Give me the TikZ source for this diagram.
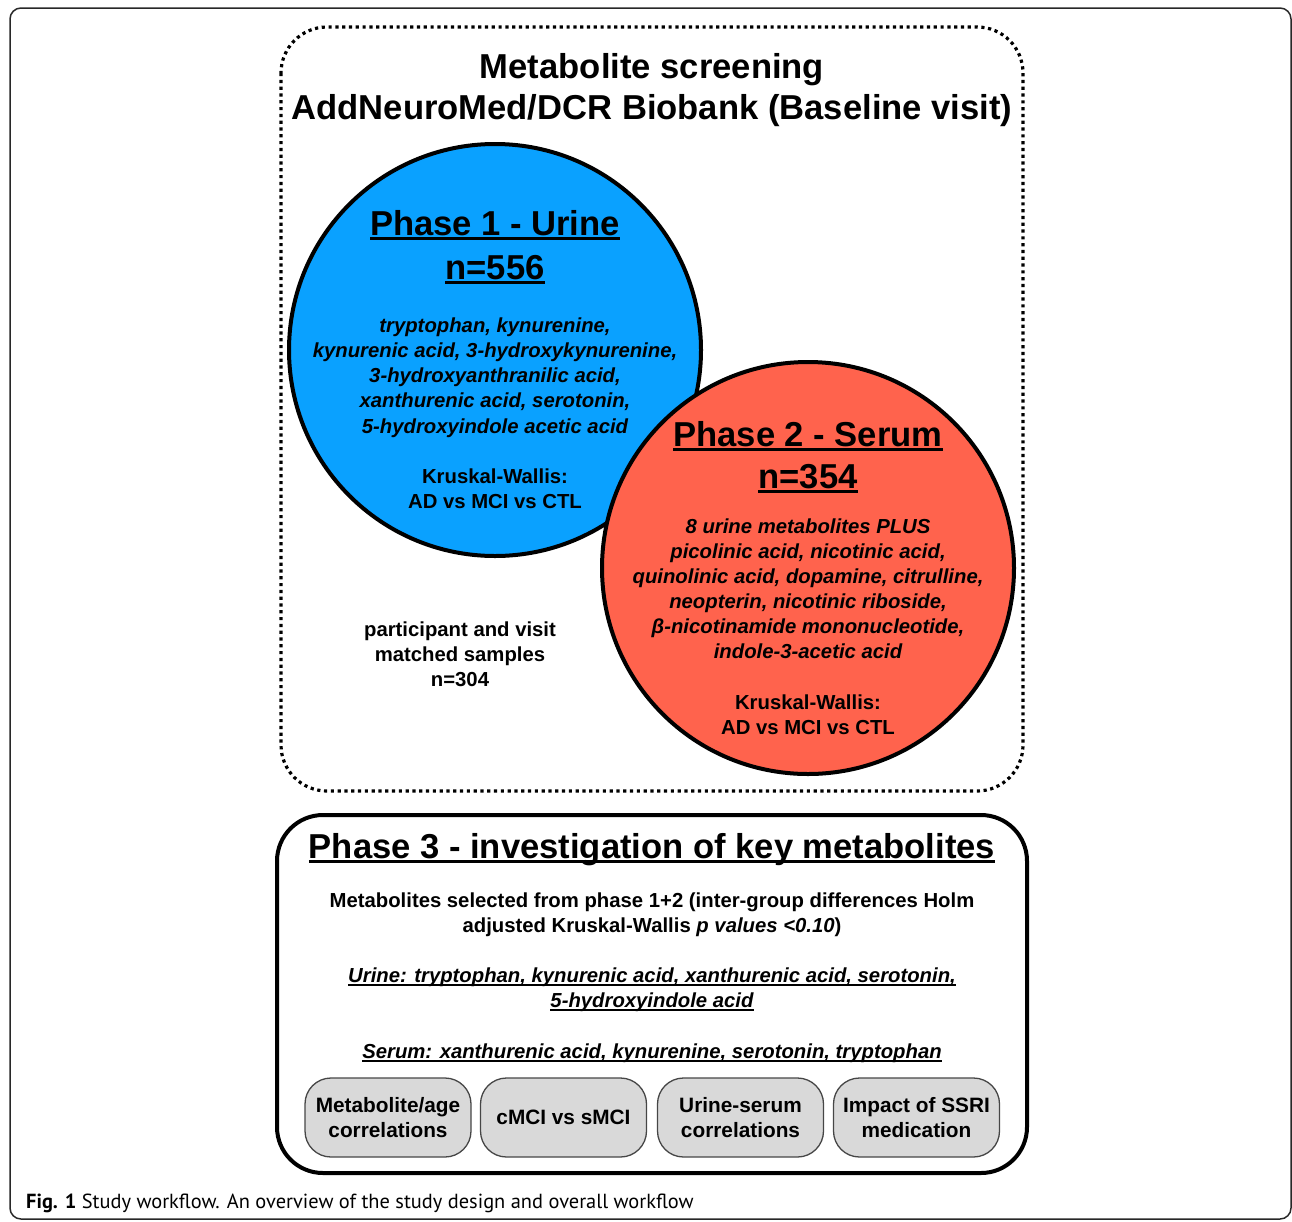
\documentclass[tikz,border=0pt]{standalone}
\usepackage{fontspec}
\setmainfont{Liberation Sans}
\newfontfamily\capfont{PT Sans}
\newlength\ulthk \setlength\ulthk{2.2pt}
\newlength\uldp \setlength\uldp{4.5pt}
\newsavebox\ulbox
\newcommand\uln[1]{\sbox\ulbox{#1}\rlap{\rule[-\uldp]{\wd\ulbox}{\ulthk}}\usebox\ulbox}
\definecolor{urineblue}{RGB}{10,161,255}
\definecolor{serumred}{RGB}{255,99,77}
\definecolor{boxgray}{RGB}{217,217,217}
\definecolor{boxedge}{RGB}{70,70,70}
\definecolor{frameedge}{RGB}{40,40,40}
\begin{document}
\begin{tikzpicture}[x=1pt,y=-1pt,
  head/.style={anchor=base,inner sep=0pt,font=\fontsize{34.6}{40}\selectfont\bfseries},
  body/.style={anchor=base,inner sep=0pt,font=\fontsize{20.3}{25}\selectfont\bfseries},
  ibody/.style={anchor=base,inner sep=0pt,font=\fontsize{20.3}{25}\selectfont\bfseries\itshape},
  phasecircle/.style={draw=black,line width=4pt},
  taskbox/.style={draw=boxedge,line width=1.3pt,fill=boxgray,rounded corners=26pt,
    minimum width=166pt,minimum height=79pt,inner sep=0pt,align=center,
    font=\fontsize{20.8}{25}\selectfont\bfseries}]
\useasboundingbox (0,0) rectangle (1292,1221);
% outer frame
\draw[frameedge,line width=1.5pt,rounded corners=11pt] (10,8) rectangle (1291,1219);
% dotted screening frame
\draw[line width=3.2pt,dash pattern=on 3.2pt off 3.6pt,rounded corners=46pt] (281,27) rectangle (1023,791);
\node[head] (t1) at (652,78) {Metabolite screening};
\node[head] (t2) at (652,119) {AddNeuroMed/DCR Biobank (Baseline visit)};
% circles
\node[phasecircle,fill=urineblue,circle,minimum size=412pt] (urine) at (495,350) {};
\node[phasecircle,fill=serumred,circle,minimum size=412pt] (serum) at (808,568) {};
% urine text
\node[head] (u1) at (495,235) {\uln{Phase 1 - Urine}};
\node[head] (u2) at (495,279) {\uln{n=556}};
\node[ibody] (u3) at (495,332) {tryptophan, kynurenine,};
\node[ibody] (u4) at (495,357) {kynurenic acid, 3-hydroxykynurenine,};
\node[ibody] (u5) at (495,382) {3-hydroxyanthranilic acid,};
\node[ibody] (u6) at (495,407) {xanthurenic acid, serotonin,};
\node[ibody] (u7) at (495,433) {5-hydroxyindole acetic acid};
\node[body] (u8) at (495,483) {Kruskal-Wallis:};
\node[body] (u9) at (495,508) {AD vs MCI vs CTL};
% serum text
\node[head] (s1) at (808,446) {\uln{Phase 2 - Serum}};
\node[head] (s2) at (808,488) {\uln{n=354}};
\node[ibody] (s3) at (808,533) {8 urine metabolites PLUS};
\node[ibody] (s4) at (808,558) {picolinic acid, nicotinic acid,};
\node[ibody] (s5) at (808,583) {quinolinic acid, dopamine, citrulline,};
\node[ibody] (s6) at (808,608) {neopterin, nicotinic riboside,};
\node[ibody] (s7) at (808,633) {β-nicotinamide mononucleotide,};
\node[ibody] (s8) at (808,658) {indole-3-acetic acid};
\node[body] (s9) at (808,709) {Kruskal-Wallis:};
\node[body] (s10) at (808,734) {AD vs MCI vs CTL};
% matched samples
\node[body] (m1) at (460,636) {participant and visit};
\node[body] (m2) at (460,661) {matched samples};
\node[body] (m3) at (460,686) {n=304};
% phase 3
\draw[line width=4pt,rounded corners=46pt] (277,815) rectangle (1027,1173);
\node[head] (p1) at (652,858) {\uln{Phase 3 - investigation of key metabolites}};
\node[body] (p2) at (652,907) {Metabolites selected from phase 1+2 (inter-group differences Holm};
\node[body] (p3) at (652,932) {adjusted Kruskal-Wallis \textit{p values <0.10})};
\setlength\ulthk{1.5pt}\setlength\uldp{3.5pt}
\node[ibody] (p4) at (652,982) {\uln{Urine: tryptophan, kynurenic acid, xanthurenic acid, serotonin,}};
\node[ibody] (p5) at (652,1007) {\uln{5-hydroxyindole acid}};
\node[ibody] (p6) at (652,1058) {\uln{Serum: xanthurenic acid, kynurenine, serotonin, tryptophan}};
\node[taskbox] (b1) at (388,1117.5) {Metabolite/age\\correlations};
\node[taskbox] (b2) at (563.5,1117.5) {cMCI vs sMCI};
\node[taskbox] (b3) at (740.5,1117.5) {Urine-serum\\correlations};
\node[taskbox] (b4) at (916.5,1117.5) {Impact of SSRI\\medication};
% caption
\node[anchor=base west,inner sep=0pt,font=\fontsize{20.4}{24}\selectfont\capfont] (cap) at (26,1208)
  {\textbf{Fig. 1} Study workflow. An overview of the study design and overall workflow};
\end{tikzpicture}
\end{document}
